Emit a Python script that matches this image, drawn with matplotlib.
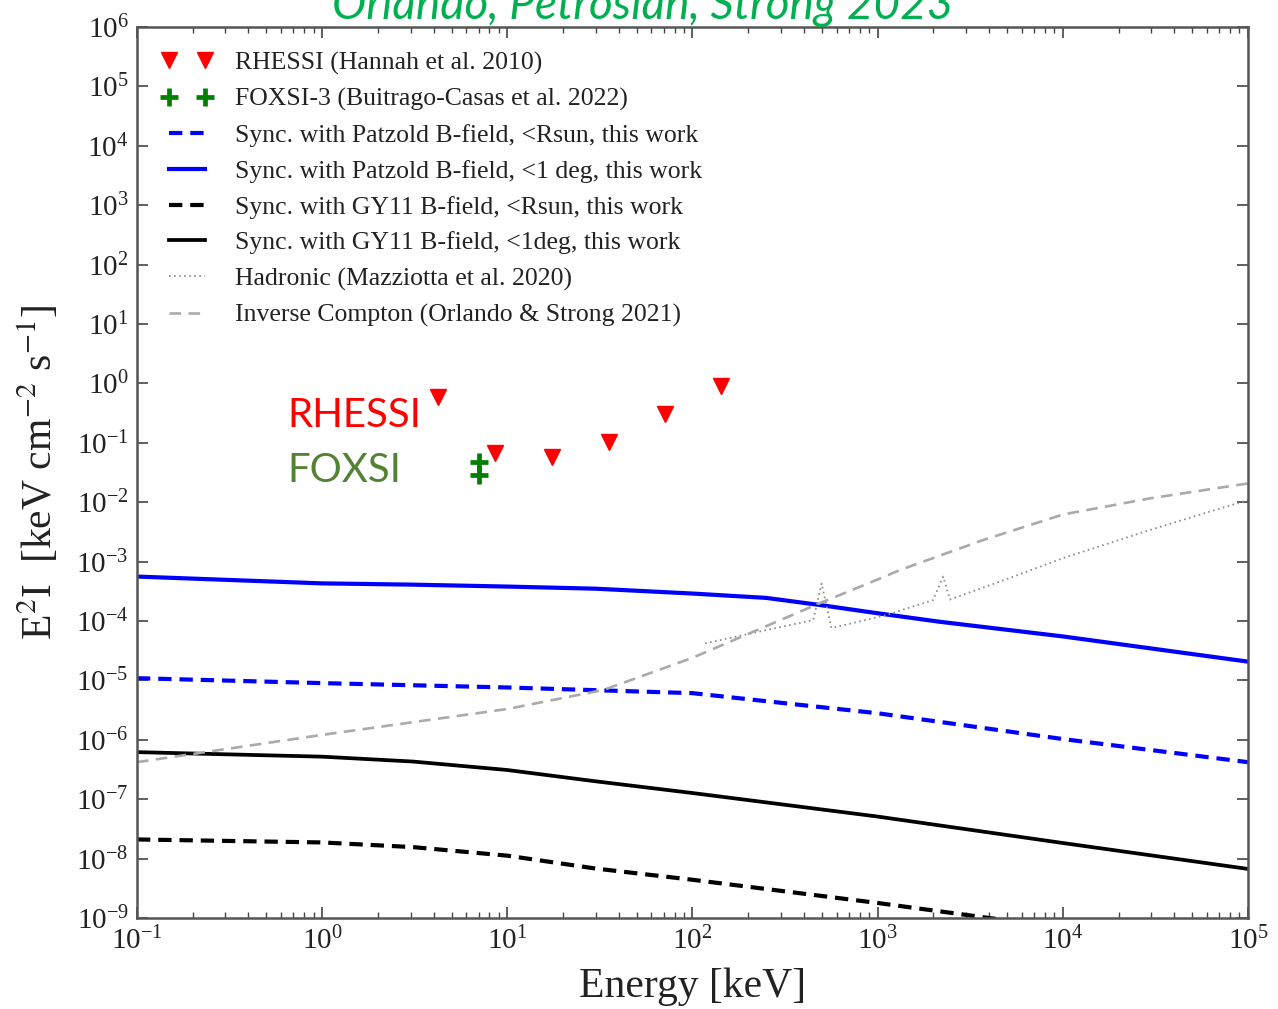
import matplotlib
matplotlib.use("Agg")
import matplotlib.pyplot as plt
from matplotlib.ticker import LogLocator, NullLocator, LogFormatterMathtext

plt.rcParams['font.family'] = 'serif'
plt.rcParams['font.serif'] = ['Liberation Serif', 'DejaVu Serif']
plt.rcParams['mathtext.fontset'] = 'stix'

# ---------------- data ----------------
rhessi_E = [4.24, 8.6, 17.4, 35.5, 71, 142]
rhessi_F = [0.594, 0.068, 0.058, 0.103, 0.304, 0.90]

foxsi_E = [7.05, 7.05]
foxsi_F = [0.047, 0.0286]

patzold_rsun_E = [0.1, 1, 10, 100, 322, 1000, 1e4, 1e5]
patzold_rsun_F = [1.09e-5, 9.0e-6, 7.6e-6, 6.1e-6, 4.1e-6, 2.8e-6, 1.03e-6, 4.2e-7]

patzold_deg_E = [0.1, 1, 3, 10, 30, 100, 250, 488, 1000, 2170, 1e4, 1e5]
patzold_deg_F = [5.6e-4, 4.3e-4, 4.1e-4, 3.8e-4, 3.5e-4, 2.9e-4, 2.45e-4, 1.86e-4,
                 1.35e-4, 9.7e-5, 5.5e-5, 2.07e-5]

gy11_rsun_E = [0.1, 1, 3.1, 10, 30, 100, 1000, 4000, 1e4, 1e5]
gy11_rsun_F = [2.1e-8, 1.87e-8, 1.56e-8, 1.12e-8, 6.8e-9, 4.4e-9, 1.79e-9, 1.0e-9,
               6.8e-10, 2.5e-10]

gy11_deg_E = [0.1, 1, 3.1, 10, 30, 100, 1000, 1e4, 1e5]
gy11_deg_F = [6.2e-7, 5.2e-7, 4.3e-7, 3.1e-7, 2.0e-7, 1.27e-7, 5.1e-8, 1.83e-8, 6.7e-9]

hadronic_E = [117, 213, 449, 498, 563, 1117, 1995, 2260, 2455, 4570, 1e4, 2.95e4, 1e5]
hadronic_F = [4.2e-5, 6.3e-5, 1.04e-4, 4.3e-4, 7.6e-5, 1.26e-4, 2.26e-4, 5.6e-4,
              2.3e-4, 4.6e-4, 1.14e-3, 3.4e-3, 1.09e-2]

ic_E = [0.1, 1, 10, 33, 100, 213, 488, 1000, 1318, 3700, 1e4, 2.95e4, 1e5]
ic_F = [4.2e-7, 1.21e-6, 3.3e-6, 6.9e-6, 2.4e-5, 6.6e-5, 2.0e-4, 5.0e-4, 7.2e-4,
        2.3e-3, 6.2e-3, 1.16e-2, 2.07e-2]

labels = [
    "RHESSI (Hannah et al. 2010)",
    "FOXSI-3 (Buitrago-Casas et al. 2022)",
    "Sync. with Patzold B-field, <Rsun, this work",
    "Sync. with Patzold B-field, <1 deg, this work",
    "Sync. with GY11 B-field, <Rsun, this work",
    "Sync. with GY11 B-field, <1deg, this work",
    "Hadronic (Mazziotta et al. 2020)",
    "Inverse Compton (Orlando & Strong 2021)",
]

# ---------------- figure ----------------
fig = plt.figure(figsize=(12.78, 10.09), dpi=100)
ax = fig.add_axes([0.1072, 0.0902, 0.8693, 0.883])
ax.set_xscale('log')
ax.set_yscale('log')

ax.plot(rhessi_E, rhessi_F, linestyle='none', marker='v', ms=12, color='#ff0000',
        mec='#ff0000', label=labels[0])
ax.plot(foxsi_E, foxsi_F, linestyle='none', marker='+', ms=13, mew=3.4,
        color='#008000', label=labels[1])
ax.plot(patzold_rsun_E, patzold_rsun_F, color='#0000ff', lw=3, dashes=(3.2, 1.9),
        label=labels[2])
ax.plot(patzold_deg_E, patzold_deg_F, color='#0000ff', lw=3, label=labels[3])
ax.plot(gy11_rsun_E, gy11_rsun_F, color='black', lw=3, dashes=(3.2, 1.9),
        label=labels[4])
ax.plot(gy11_deg_E, gy11_deg_F, color='black', lw=2.7, label=labels[5])
ax.plot(hadronic_E, hadronic_F, color='#8c8c8c', lw=1.3, dashes=(0.9, 1.9),
        label=labels[6])
ax.plot(ic_E, ic_F, color='#aaaaaa', lw=1.9, dashes=(4.4, 2.8), label=labels[7])

ax.set_xlim(1e-1, 1e5)
ax.set_ylim(1e-9, 1e6)

ax.xaxis.set_major_locator(LogLocator(base=10, numticks=20))
ax.xaxis.set_minor_locator(LogLocator(base=10, subs=range(2, 10), numticks=100))
ax.yaxis.set_major_locator(LogLocator(base=10, numticks=30))
ax.yaxis.set_minor_locator(NullLocator())
ax.xaxis.set_major_formatter(LogFormatterMathtext())
ax.yaxis.set_major_formatter(LogFormatterMathtext())

ax.tick_params(which='both', direction='in', top=True, right=True, colors='#444444',
               labelcolor='#222222')
ax.tick_params(which='major', length=8, width=1.2, labelsize=21, pad=6)
ax.tick_params(which='minor', length=4, width=1.0)
for sp in ax.spines.values():
    sp.set_color('#555555')
    sp.set_linewidth(1.8)

ax.set_xlabel('Energy [keV]', fontsize=30, color='#222222', labelpad=9)
ax.set_ylabel(r'E$^2$I  [keV cm$^{-2}$ s$^{-1}$]', fontsize=30, color='#222222',
              labelpad=11)

leg = ax.legend(loc='upper left', frameon=False, fontsize=18.5, numpoints=2,
                handlelength=2.0, handletextpad=0.85, labelspacing=0.5,
                borderaxespad=0.55)
for t in leg.get_texts():
    t.set_color('#222222')

ax.text(0.1350, 0.5516, 'RHESSI', transform=ax.transAxes, fontsize=29,
        family='Lato', color='#ff0000', va='baseline', ha='left')
ax.text(0.1350, 0.4898, 'FOXSI', transform=ax.transAxes, fontsize=29,
        family='Lato', color='#548235', va='baseline', ha='left')

fig.text(0.503, 0.981, 'Orlando, Petrosian, Strong 2023', fontsize=33,
         family='Lato', style='italic', color='#00b050', ha='center', va='baseline')

fig.savefig('out.png', dpi=100)
